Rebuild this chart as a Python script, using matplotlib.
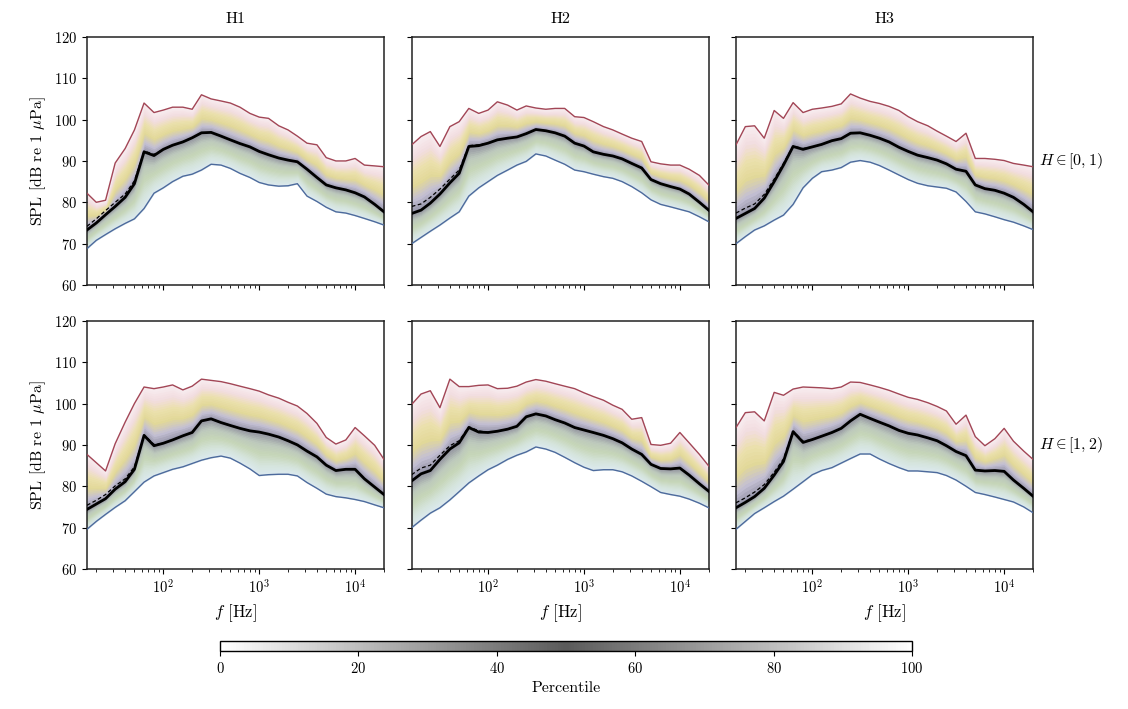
"""spl_percentile_grid.py

Third-octave SPL percentile spectra, split by hydrophone (columns)
and by H range (rows).
"""
import numpy as np
import matplotlib
matplotlib.use("Agg")
import matplotlib.pyplot as plt
from matplotlib.colors import LinearSegmentedColormap, Normalize
from matplotlib.cm import ScalarMappable

plt.rcParams["font.family"] = "serif"
plt.rcParams["font.serif"] = ["cmr10", "DejaVu Serif"]
plt.rcParams["mathtext.fontset"] = "cm"
plt.rcParams["axes.formatter.use_mathtext"] = True

# ------------------------------------------------------------------ #
# Data
# ------------------------------------------------------------------ #

freqs = [16, 20, 25, 31.5, 40, 50, 63, 80, 100, 125, 160, 200, 250, 315,
         400, 500, 630, 800, 1000, 1250, 1600, 2000, 2500, 3150, 4000,
         5000, 6300, 8000, 10000, 12500, 16000, 20000]

hydrophones = ["H1", "H2", "H3"]
h_ranges = [r"$H \in [0, 1)$", r"$H \in [1, 2)$"]

# maximum (upper envelope) per panel, row-major
spl_max_h1_r0 = [82.2, 80.0, 80.5, 89.5, 93.0, 97.5, 104.0, 101.7, 102.3, 103.0, 103.0, 102.5,
                 106.0, 105.0, 104.5, 104.0, 103.0, 101.5, 100.6, 100.3, 98.5, 97.5, 96.0, 94.3,
                 93.9, 90.8, 90.0, 90.0, 90.6, 89.0, 88.8, 88.6]
spl_max_h2_r0 = [93.9, 95.9, 97.1, 93.5, 98.3, 99.5, 102.7, 101.5, 102.3, 104.3, 103.5, 102.3,
                 103.3, 102.8, 102.5, 102.7, 102.7, 100.7, 100.5, 99.5, 98.3, 97.5, 96.5, 95.5,
                 94.7, 89.8, 89.3, 89.0, 89.0, 88.0, 86.5, 84.2]
spl_max_h3_r0 = [93.9, 98.3, 98.5, 95.5, 102.2, 100.3, 104.1, 101.7, 102.5, 102.8, 103.2, 103.8,
                 106.2, 105.2, 104.4, 103.9, 103.2, 102.2, 100.7, 99.5, 98.5, 97.2, 96.0, 94.7,
                 96.7, 90.6, 90.6, 90.4, 90.1, 89.4, 89.0, 88.6]
spl_max_h1_r1 = [87.7, 85.7, 83.7, 90.3, 95.5, 100.0, 104.0, 103.6, 104.0, 104.5, 103.3, 104.2,
                 105.9, 105.6, 105.3, 104.8, 104.2, 103.6, 103.0, 102.1, 101.3, 100.3, 99.4, 97.6,
                 95.2, 91.8, 90.2, 91.2, 94.2, 92.2, 89.9, 86.5]
spl_max_h2_r1 = [99.8, 102.3, 103.1, 99.0, 105.9, 104.1, 104.1, 104.4, 104.5, 103.6, 103.7, 104.2,
                 105.2, 105.8, 105.4, 104.8, 104.2, 103.6, 102.6, 101.7, 100.8, 99.6, 98.6, 96.2,
                 96.6, 90.1, 89.9, 90.4, 93.0, 90.5, 87.7, 84.9]
spl_max_h3_r1 = [94.2, 97.8, 98.0, 95.8, 102.7, 102.0, 103.5, 104.0, 103.9, 103.8, 103.6, 104.0,
                 105.2, 105.1, 104.5, 103.9, 103.2, 102.3, 101.5, 101.0, 100.2, 99.3, 98.2, 95.0,
                 97.2, 92.0, 89.8, 91.5, 94.0, 90.9, 88.5, 86.5]

# median per panel
spl_med_h1_r0 = [73.3, 75.0, 77.0, 79.0, 81.2, 84.5, 92.2, 91.3, 92.8, 93.8, 94.6, 95.6,
                 96.8, 96.9, 96.0, 95.1, 94.2, 93.4, 92.3, 91.5, 90.7, 90.2, 89.8, 88.0,
                 86.0, 84.2, 83.5, 83.0, 82.3, 81.3, 79.5, 77.7]
spl_med_h2_r0 = [77.3, 78.1, 79.8, 82.0, 84.7, 87.0, 93.5, 93.7, 94.3, 95.1, 95.5, 95.8,
                 96.6, 97.6, 97.3, 96.8, 96.0, 94.3, 93.6, 92.2, 91.6, 91.2, 90.5, 89.4,
                 88.3, 85.5, 84.5, 83.8, 83.2, 82.0, 80.0, 78.1]
spl_med_h3_r0 = [76.1, 77.3, 78.5, 81.0, 85.0, 89.0, 93.5, 92.8, 93.4, 94.0, 94.9, 95.4,
                 96.7, 96.8, 96.2, 95.5, 94.6, 93.3, 92.3, 91.4, 90.8, 90.2, 89.3, 88.0,
                 87.5, 84.2, 83.3, 82.9, 82.2, 81.2, 79.5, 77.7]
spl_med_h1_r1 = [74.4, 75.7, 77.0, 79.3, 81.1, 84.1, 92.3, 89.8, 90.4, 91.2, 92.2, 93.0,
                 95.8, 96.3, 95.4, 94.7, 94.0, 93.4, 93.1, 92.6, 91.9, 91.0, 90.0, 88.5,
                 87.1, 85.1, 83.8, 84.1, 84.1, 81.8, 79.8, 78.0]
spl_med_h2_r1 = [81.3, 83.0, 83.8, 86.5, 89.0, 90.5, 94.2, 93.1, 93.0, 93.3, 93.8, 94.5,
                 96.8, 97.5, 97.0, 96.1, 95.3, 94.2, 93.6, 93.0, 92.3, 91.5, 90.5, 89.0,
                 87.7, 85.3, 84.3, 84.2, 84.4, 82.7, 80.6, 78.8]
spl_med_h3_r1 = [74.8, 76.1, 77.5, 79.5, 82.7, 86.0, 93.2, 90.6, 91.3, 92.1, 93.0, 94.0,
                 95.8, 97.4, 96.4, 95.5, 94.6, 93.5, 92.8, 92.4, 91.7, 91.0, 89.8, 88.4,
                 87.4, 83.9, 83.7, 83.8, 83.6, 81.5, 79.5, 77.6]

# minimum (lower envelope) per panel
spl_min_h1_r0 = [68.8, 70.8, 72.2, 73.6, 74.9, 76.0, 78.5, 82.2, 83.5, 85.0, 86.3, 86.8,
                 87.8, 89.2, 89.0, 88.2, 87.0, 86.0, 84.8, 84.2, 83.9, 84.0, 84.5, 81.5,
                 80.2, 78.8, 77.7, 77.4, 76.8, 76.1, 75.3, 74.5]
spl_min_h2_r0 = [70.0, 71.5, 73.0, 74.5, 76.2, 77.7, 81.5, 83.5, 85.0, 86.5, 87.8, 89.0,
                 89.9, 91.7, 91.2, 90.2, 89.2, 87.8, 87.4, 86.8, 86.2, 85.8, 85.0, 83.8,
                 82.3, 80.6, 79.5, 78.9, 78.3, 77.7, 76.5, 75.3]
spl_min_h3_r0 = [70.0, 71.7, 73.3, 74.3, 75.7, 76.9, 79.5, 83.5, 85.8, 87.4, 87.8, 88.4,
                 89.7, 90.1, 89.7, 88.9, 87.8, 86.6, 85.5, 84.6, 84.0, 83.7, 83.4, 82.5,
                 80.2, 77.7, 77.2, 76.5, 75.8, 75.2, 74.3, 73.4]
spl_min_h1_r1 = [69.6, 71.5, 73.2, 74.9, 76.5, 78.7, 81.0, 82.5, 83.3, 84.1, 84.7, 85.5,
                 86.3, 86.9, 87.3, 86.8, 85.6, 84.2, 82.6, 82.8, 82.9, 82.9, 82.5, 80.9,
                 79.5, 78.1, 77.5, 77.2, 76.8, 76.3, 75.5, 74.8]
spl_min_h2_r1 = [70.0, 71.8, 73.5, 74.8, 76.7, 78.7, 80.8, 82.5, 84.0, 85.1, 86.5, 87.5,
                 88.3, 89.5, 89.0, 88.2, 87.0, 85.7, 84.6, 83.8, 84.0, 84.0, 83.5, 82.5,
                 81.2, 79.9, 78.5, 78.0, 77.6, 76.9, 75.9, 74.8]
spl_min_h3_r1 = [69.6, 71.5, 73.4, 74.8, 76.3, 77.6, 79.3, 81.1, 82.8, 83.8, 84.5, 85.6,
                 86.7, 87.8, 87.8, 86.6, 85.5, 84.5, 83.7, 83.7, 83.5, 83.3, 82.6, 81.5,
                 80.0, 78.5, 78.0, 77.4, 76.8, 76.2, 75.0, 73.6]

# mean at the lowest bands, where it separates from the median
spl_mean_low_h1_r0 = [74.2, 76.0, 78.0, 80.0, 82.0, 85.2, 92.4, 91.6]
spl_mean_low_h2_r0 = [79.0, 79.6, 81.2, 83.2, 85.6, 87.8, 93.7, 93.9]
spl_mean_low_h3_r0 = [77.4, 78.6, 79.6, 81.9, 85.6, 89.4, 93.6, 93.0]
spl_mean_low_h1_r1 = [75.4, 76.6, 78.0, 80.1, 81.8, 84.7, 92.4, 90.1]
spl_mean_low_h2_r1 = [82.8, 84.4, 85.1, 87.5, 89.8, 91.0, 94.4, 93.4]
spl_mean_low_h3_r1 = [76.0, 77.2, 78.6, 80.4, 83.4, 86.6, 93.3, 90.9]

spl_max = [[spl_max_h1_r0, spl_max_h2_r0, spl_max_h3_r0],
           [spl_max_h1_r1, spl_max_h2_r1, spl_max_h3_r1]]
spl_med = [[spl_med_h1_r0, spl_med_h2_r0, spl_med_h3_r0],
           [spl_med_h1_r1, spl_med_h2_r1, spl_med_h3_r1]]
spl_min = [[spl_min_h1_r0, spl_min_h2_r0, spl_min_h3_r0],
           [spl_min_h1_r1, spl_min_h2_r1, spl_min_h3_r1]]
spl_mean_low = [[spl_mean_low_h1_r0, spl_mean_low_h2_r0, spl_mean_low_h3_r0],
                [spl_mean_low_h1_r1, spl_mean_low_h2_r1, spl_mean_low_h3_r1]]

cbar_ticks = [0, 20, 40, 60, 80, 100]

# ------------------------------------------------------------------ #
# Colours
# ------------------------------------------------------------------ #

upper_cmap = LinearSegmentedColormap.from_list(
    "upper", ["#8e8ea2", "#c4c0d4", "#e2d898", "#ebe0ac", "#f2dde0", "#f8ecef"])
lower_cmap = LinearSegmentedColormap.from_list(
    "lower", ["#8e8e9c", "#bcc8bc", "#c6d6b8", "#d4e3da", "#dce9f0"])
pct_cmap = LinearSegmentedColormap.from_list(
    "pct", ["#ffffff", "#5a5a5a", "#ffffff"])

N_SHADE = 24

# ------------------------------------------------------------------ #
# Drawing
# ------------------------------------------------------------------ #

def shade_side(ax, f, med, edge, cmap):
    med = np.asarray(med)
    edge = np.asarray(edge)
    for k in range(N_SHADE):
        t0, t1 = k / N_SHADE, (k + 1) / N_SHADE
        y0 = med + (edge - med) * t0
        y1 = med + (edge - med) * t1
        col = cmap((t0 + t1) / 2)
        # stroke each band in its own colour so neighbouring bands leave no seams
        ax.fill_between(f, y0, y1, facecolor=col, edgecolor=col,
                        linewidth=0.6, zorder=1)


def draw_panel(ax, f, lo, med, hi, mean_low):
    shade_side(ax, f, med, hi, upper_cmap)
    shade_side(ax, f, med, lo, lower_cmap)

    ax.plot(f, hi, color="#a24656", lw=1.0, zorder=3)
    ax.plot(f, lo, color="#4d6a9c", lw=1.0, zorder=3)
    ax.plot(f, med, color="black", lw=2.0, zorder=4)
    mean = list(mean_low) + list(med[len(mean_low):])
    ax.plot(f, mean, color="black", lw=0.9, ls=(0, (3, 2)), zorder=5)


fig = plt.figure(figsize=(11.28, 7.09), dpi=100)

col_left = [0.0771, 0.365, 0.6525]
col_w = 0.2633
row_bottom = [0.598, 0.1975]
row_h = 0.35

for r in range(2):
    for c in range(3):
        ax = fig.add_axes([col_left[c], row_bottom[r], col_w, row_h])
        draw_panel(ax, freqs, spl_min[r][c], spl_med[r][c],
                   spl_max[r][c], spl_mean_low[r][c])
        ax.set_xscale("log")
        ax.set_xlim(freqs[0], freqs[-1])
        ax.set_ylim(60, 120)
        ax.set_yticks(range(60, 121, 10))
        ax.tick_params(labelsize=10.5)
        for s in ax.spines.values():
            s.set_linewidth(1.1)
            s.set_color("#222222")

        if r == 0:
            ax.set_title(hydrophones[c], fontsize=11.5, pad=10)
            ax.tick_params(labelbottom=False)
        else:
            ax.set_xlabel(r"$f$ [Hz]", fontsize=12)
        if c == 0:
            ax.set_ylabel(r"SPL [dB re 1 $\mu$Pa]", fontsize=11.5)
        else:
            ax.tick_params(labelleft=False)
        if c == 2:
            ax.text(1.02, 0.5, h_ranges[r],
                    transform=ax.transAxes, fontsize=11.5,
                    ha="left", va="center")

# ------------------------------------------------------------------ #
# Colourbar
# ------------------------------------------------------------------ #

cax = fig.add_axes([0.195, 0.0818, 0.6135, 0.0141])
sm = ScalarMappable(norm=Normalize(0, 100), cmap=pct_cmap)
cb = fig.colorbar(sm, cax=cax, orientation="horizontal", ticks=cbar_ticks)
cb.set_label("Percentile", fontsize=11.5)
cb.ax.tick_params(labelsize=10.5)
cb.outline.set_linewidth(1.0)

fig.savefig("out.png", dpi=100)
plt.close(fig)
